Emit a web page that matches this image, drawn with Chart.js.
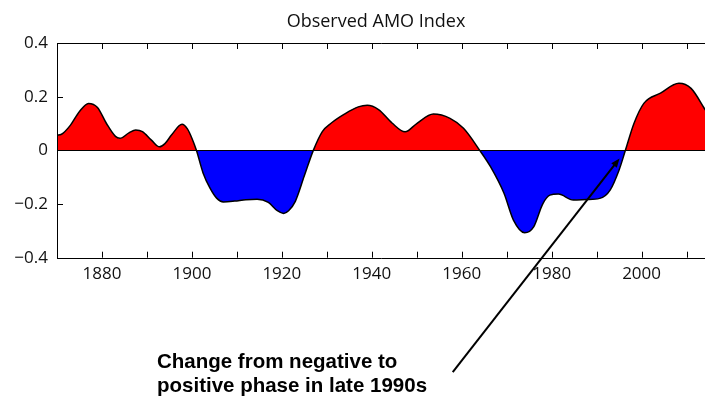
<!DOCTYPE html>
<html>
<head>
<meta charset="utf-8">
<script src="https://cdn.jsdelivr.net/npm/chart.js@4.4.1/dist/chart.umd.min.js"></script>
<style>
  html, body { margin: 0; padding: 0; background: #fff; }
  #wrap { width: 705px; height: 399px; }
</style>
</head>
<body>
<div id="wrap"><canvas id="myChart" width="705" height="399"></canvas></div>
<script>
// AMO index (year, value)
const years = [1870, 1871, 1873, 1875, 1877, 1879, 1881, 1883, 1884, 1886, 1887.5, 1889, 1891, 1892.8, 1894, 1895.5, 1897.8, 1899, 1900, 1901,
  1902.5, 1904, 1905.5, 1907, 1909.5, 1912, 1914.5, 1917, 1919, 1920.4, 1921.5, 1923, 1925, 1927, 1929, 1931, 1934, 1937, 1939, 1941.5,
  1944.5, 1947.4, 1950, 1953.7, 1957.4, 1960.4, 1964, 1966.4, 1969.4, 1971.5, 1974, 1976, 1978, 1979.6, 1981.5, 1984.8, 1987.8, 1990.7, 1993, 1995,
  1996.4, 1998.3, 2000.5, 2004.2, 2008.3, 2011, 2014.2];
const amo = [0.057, 0.060, 0.094, 0.145, 0.175, 0.160, 0.100, 0.052, 0.045, 0.065, 0.076, 0.070, 0.038, 0.013, 0.025, 0.058, 0.097, 0.080, 0.045, 0.0,
  -0.085, -0.140, -0.178, -0.192, -0.189, -0.184, -0.182, -0.194, -0.225, -0.235, -0.225, -0.190, -0.095, 0.0, 0.070, 0.102, 0.136, 0.162, 0.168, 0.152,
  0.102, 0.069, 0.100, 0.135, 0.119, 0.082, 0.0, -0.061, -0.160, -0.260, -0.307, -0.285, -0.200, -0.167, -0.163, -0.185, -0.183, -0.179, -0.148, -0.073,
  0.0, 0.100, 0.175, 0.213, 0.250, 0.231, 0.150];
const xTicks = [1870, 1880, 1890, 1900, 1910, 1920, 1930, 1940, 1950, 1960, 1970, 1980, 1990, 2000, 2010];
const xLabels = [1880, 1900, 1920, 1940, 1960, 1980, 2000];
const yTicks = [-0.4, -0.2, 0, 0.2, 0.4];

const titleText = 'Observed AMO Index';
const noteLines = ['Change from negative to', 'positive phase in late 1990s'];
// arrow from the note up to the zero crossing
const arrowFrom = { x: 1958, y: -0.826 };
const arrowTo = { x: 1995.1, y: -0.03 };

const axisFont = { family: 'Open Sans', size: 17 };

// frame, inward ticks, zero line, title and the note
const extras = {
  id: 'extras',
  afterDatasetsDraw(chart) {
    const ctx = chart.ctx;
    const a = chart.chartArea;
    const xs = chart.scales.x;
    const ys = chart.scales.y;
    ctx.save();
    ctx.strokeStyle = '#000';
    ctx.lineWidth = 1;

    // zero line
    const y0 = Math.round(ys.getPixelForValue(0)) + 0.5;
    ctx.beginPath();
    ctx.moveTo(a.left, y0);
    ctx.lineTo(a.right, y0);
    ctx.stroke();

    // box (right side is off the page)
    ctx.beginPath();
    ctx.moveTo(a.right, Math.round(a.top) + 0.5);
    ctx.lineTo(Math.round(a.left) + 0.5, Math.round(a.top) + 0.5);
    ctx.lineTo(Math.round(a.left) + 0.5, Math.round(a.bottom) + 0.5);
    ctx.lineTo(a.right, Math.round(a.bottom) + 0.5);
    ctx.stroke();

    ctx.beginPath();
    xTicks.forEach(v => {
      const px = Math.round(xs.getPixelForValue(v)) + 0.5;
      ctx.moveTo(px, a.top);
      ctx.lineTo(px, a.top + 6);
      ctx.moveTo(px, a.bottom);
      ctx.lineTo(px, a.bottom - 6);
    });
    yTicks.forEach(v => {
      const py = Math.round(ys.getPixelForValue(v)) + 0.5;
      ctx.moveTo(a.left, py);
      ctx.lineTo(a.left + 6, py);
    });
    ctx.stroke();

    // title
    ctx.fillStyle = '#111';
    ctx.font = '18px "Open Sans"';
    ctx.textAlign = 'center';
    ctx.textBaseline = 'alphabetic';
    ctx.fillText(titleText, 376, 27);

    // note
    ctx.fillStyle = '#000';
    ctx.font = 'bold 20.5px "Liberation Sans"';
    ctx.textAlign = 'left';
    noteLines.forEach((t, i) => ctx.fillText(t, 157, 368 + i * 24));

    // arrow
    const x1 = xs.getPixelForValue(arrowFrom.x), y1 = ys.getPixelForValue(arrowFrom.y);
    const x2 = xs.getPixelForValue(arrowTo.x), y2 = ys.getPixelForValue(arrowTo.y);
    const ang = Math.atan2(y2 - y1, x2 - x1);
    ctx.lineWidth = 2;
    ctx.beginPath();
    ctx.moveTo(x1, y1);
    ctx.lineTo(x2 - 6 * Math.cos(ang), y2 - 6 * Math.sin(ang));
    ctx.stroke();
    ctx.beginPath();
    ctx.moveTo(x2, y2);
    ctx.lineTo(x2 - 9 * Math.cos(ang) + 3.5 * Math.sin(ang), y2 - 9 * Math.sin(ang) - 3.5 * Math.cos(ang));
    ctx.lineTo(x2 - 9 * Math.cos(ang) - 3.5 * Math.sin(ang), y2 - 9 * Math.sin(ang) + 3.5 * Math.cos(ang));
    ctx.closePath();
    ctx.fill();
    ctx.restore();
  }
};

const ctx = document.getElementById('myChart').getContext('2d');
const myChart = new Chart(ctx, {
  type: 'line',
  data: {
    datasets: [{
      data: years.map((y, i) => ({ x: y, y: amo[i] })),
      borderColor: '#000',
      borderWidth: 1.5,
      pointRadius: 0,
      cubicInterpolationMode: 'monotone',
      fill: { target: 'origin', above: '#ff0000', below: '#0000ff' }
    }]
  },
  options: {
    responsive: false,
    animation: false,
    layout: { padding: { top: 43, right: 0, bottom: 0, left: 0 } },
    plugins: {
      legend: { display: false },
      title: { display: false },
      tooltip: { enabled: false }
    },
    scales: {
      x: {
        type: 'linear',
        min: 1870,
        max: 2014.1,
        grid: { display: false, drawTicks: false, tickLength: 0 },
        border: { display: false },
        afterBuildTicks: scale => { scale.ticks = xTicks.map(v => ({ value: v })); },
        afterFit: scale => { scale.height = 141.3; },
        ticks: {
          autoSkip: false,
          maxRotation: 0,
          padding: 6,
          color: '#111',
          font: axisFont,
          callback: v => xLabels.includes(v) ? String(v) : ''
        }
      },
      y: {
        min: -0.4,
        max: 0.4,
        grid: { display: false, drawTicks: false, tickLength: 0 },
        border: { display: false },
        afterBuildTicks: scale => { scale.ticks = yTicks.map(v => ({ value: v })); },
        afterFit: scale => { scale.width = 57; },
        ticks: {
          padding: 9,
          color: '#111',
          font: axisFont,
          callback: v => v === 0 ? '0' : (v < 0 ? '\u2212' : '') + Math.abs(v).toFixed(1)
        }
      }
    }
  },
  plugins: [extras]
});
</script>
</body>
</html>
